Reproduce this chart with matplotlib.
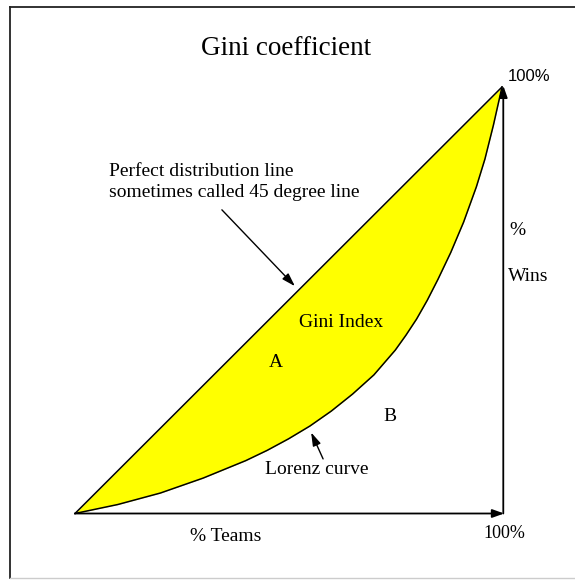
import matplotlib
matplotlib.use("Agg")
import matplotlib.pyplot as plt
from matplotlib.lines import Line2D

# Lorenz curve read as cumulative % of teams vs cumulative % of wins
teams = [0, 10, 20, 30, 40, 45, 50, 55, 60, 65, 70, 75, 77.5, 80, 82.5, 85,
         88, 91, 94, 96, 98, 100]
wins = [0, 2.1, 4.8, 8.3, 12.4, 14.8, 17.5, 20.5, 24.0, 28.0, 32.5, 38.3,
        41.8, 45.6, 50.0, 54.9, 61.2, 68.3, 76.6, 83.1, 91.1, 100]

# perfect equality line
equal_x = [0, 100]
equal_y = [0, 100]

title = "Gini coefficient"
equal_label = "Perfect distribution line\nsometimes called 45 degree line"
lorenz_label = "Lorenz curve"
area_label = "Gini Index"
x_label = "% Teams"
y_label_top = "%"
y_label_bottom = "Wins"
max_label = "100%"

W, H = 575, 581
fig = plt.figure(figsize=(W / 100, H / 100), dpi=100)
fig.patch.set_facecolor("white")

# plot area: 0..100 on both axes
ax = fig.add_axes([75 / W, (H - 513.5) / H, 427 / W, 426.5 / H])
ax.set_xlim(0, 100)
ax.set_ylim(0, 100)
ax.axis("off")

serif = "Liberation Serif"

# area between equality line and Lorenz curve
ax.fill_between(teams, wins, teams, color="#ffff00", linewidth=0, zorder=1)
ax.plot(equal_x, equal_y, color="black", lw=1.1, zorder=3, clip_on=False)
ax.plot(teams, wins, color="black", lw=1.1, zorder=3, clip_on=False,
        solid_joinstyle="round")

# axes drawn as arrows
axis_arrow = dict(arrowstyle="-|>,head_length=0.7,head_width=0.25",
                  color="black", lw=1.3, shrinkA=0, shrinkB=0)
ax.annotate("", xy=(100.5, 0), xytext=(0, 0), arrowprops=axis_arrow,
            annotation_clip=False, zorder=4)
ax.annotate("", xy=(100.3, 100.3), xytext=(100.3, 0), arrowprops=axis_arrow,
            annotation_clip=False, zorder=4)

# labels
ax.text(49.5, 107.5, title, ha="center", va="baseline", fontsize=19.5,
        family=serif)
ax.text(7.9, 77.7, equal_label, ha="left", va="center", fontsize=14,
        family=serif, linespacing=1.25)
ax.text(62.3, 44.7, area_label, ha="center", va="center", fontsize=14,
        family=serif)
ax.text(47.0, 35.4, "A", ha="center", va="center", fontsize=14,
        family=serif)
ax.text(73.8, 22.8, "B", ha="center", va="center", fontsize=14,
        family=serif)
ax.text(56.6, 10.2, lorenz_label, ha="center", va="center", fontsize=14,
        family=serif)
ax.text(35.2, -5.4, x_label, ha="center", va="center", fontsize=14,
        family=serif)
ax.text(100.6, -4.8, max_label, ha="center", va="center", fontsize=13,
        family=serif)
ax.text(101.3, 102.4, max_label, ha="left", va="center", fontsize=12,
        family="Liberation Sans")
ax.text(101.8, 66.4, y_label_top, ha="left", va="center", fontsize=14,
        family=serif)
ax.text(101.5, 55.5, y_label_bottom, ha="left", va="center", fontsize=14,
        family=serif)

# pointer arrows
pointer = dict(arrowstyle="-|>,head_length=0.8,head_width=0.25",
               color="black", lw=1.0, shrinkA=0, shrinkB=0)
ax.annotate("", xy=(51.5, 53.3), xytext=(34.4, 71.2), arrowprops=pointer,
            annotation_clip=False, zorder=5)
ax.annotate("", xy=(55.3, 19.0), xytext=(58.1, 12.8), arrowprops=pointer,
            annotation_clip=False, zorder=5)

# frame around the figure
top, left, bottom = 1 - 7 / H, 10 / W, 1 - 578 / H
fig.add_artist(Line2D([left, 1], [top, top], color="#222222", lw=1.3))
fig.add_artist(Line2D([left, left], [top, bottom], color="#222222", lw=1.3))
fig.add_artist(Line2D([left, 1], [bottom, bottom], color="#cccccc", lw=1.0))

fig.savefig("out.png", dpi=100, facecolor="white")
